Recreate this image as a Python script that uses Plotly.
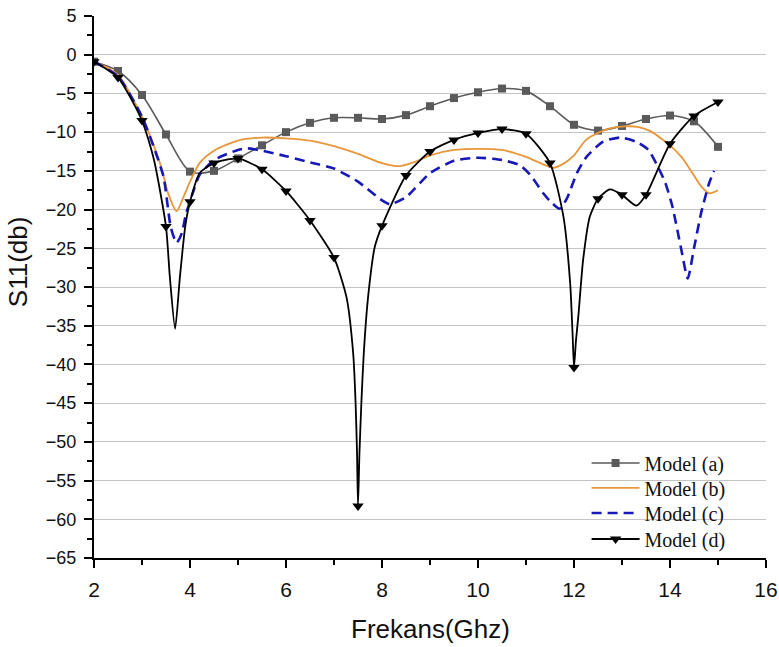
import plotly.graph_objects as go

# ---------------- data ----------------
# Model (a): gray squares every 0.5 GHz
a_x = [2.0, 2.5, 3.0, 3.5, 4.0, 4.5, 5.0, 5.5, 6.0, 6.5, 7.0, 7.5, 8.0, 8.5,
       9.0, 9.5, 10.0, 10.5, 11.0, 11.5, 12.0, 12.5, 13.0, 13.5, 14.0, 14.5, 15.0]
a_y = [-0.9, -2.1, -5.2, -10.3, -15.1, -15.0, -13.4, -11.7, -10.0, -8.8, -8.15,
       -8.15, -8.3, -7.8, -6.65, -5.6, -4.85, -4.37, -4.67, -6.65, -9.05, -9.8,
       -9.2, -8.3, -7.85, -8.6, -11.9]

# Model (b): orange solid line
b_x = [2.0, 2.5, 3.0, 3.2, 3.4, 3.55, 3.72, 3.85, 4.0, 4.2, 4.5, 5.0, 5.5, 6.0,
       6.5, 7.0, 7.5, 8.0, 8.35, 8.7, 9.0, 9.5, 10.0, 10.5, 11.0, 11.3, 11.57,
       11.8, 12.0, 12.25, 12.5, 12.75, 13.05, 13.35, 13.6, 14.0, 14.25, 14.5,
       14.65, 14.82, 15.0]
b_y = [-0.9, -2.6, -8.0, -11.0, -14.5, -18.0, -20.2, -18.6, -16.4, -14.0, -12.4,
       -11.1, -10.7, -10.8, -11.1, -11.8, -12.8, -14.0, -14.4, -13.8, -13.0,
       -12.3, -12.15, -12.3, -13.2, -14.0, -14.6, -14.0, -13.0, -11.0, -10.1,
       -9.5, -9.25, -9.35, -9.9, -11.7, -13.3, -15.6, -17.0, -17.9, -17.5]

# Model (c): blue dashed line
c_x = [2.0, 2.5, 3.0, 3.25, 3.45, 3.6, 3.72, 3.82, 3.92, 4.05, 4.2, 4.5, 5.0,
       5.2, 5.5, 6.0, 6.5, 7.0, 7.5, 8.0, 8.17, 8.5, 9.0, 9.5, 10.0, 10.5,
       10.88, 11.1, 11.36, 11.5, 11.7, 11.85, 12.06, 12.26, 12.6, 12.96, 13.3,
       13.55, 13.75, 13.9, 14.05, 14.23, 14.37, 14.5, 14.65, 14.82, 14.92]
c_y = [-0.9, -2.8, -8.0, -12.0, -15.8, -22.3, -24.3, -23.2, -20.5, -18.0, -15.5,
       -13.6, -12.3, -12.1, -12.4, -13.1, -13.9, -14.7, -16.4, -18.8, -19.3,
       -18.4, -15.3, -13.7, -13.3, -13.6, -14.3, -15.6, -17.9, -18.9, -19.9,
       -18.6, -15.3, -13.2, -11.25, -10.7, -11.25, -12.3, -14.5, -16.5, -19.6,
       -25.0, -28.9, -25.0, -20.4, -16.5, -15.0]

# Model (d): black line with down-triangles every 0.5 GHz
d_x = [2.0, 2.5, 3.0, 3.25, 3.5, 3.58, 3.69, 3.79, 3.9, 4.0, 4.2, 4.5, 5.0, 5.5,
       6.0, 6.5, 7.0, 7.26, 7.40, 7.45, 7.48, 7.5, 7.53, 7.57, 7.62, 7.71, 7.85,
       8.0, 8.5, 9.0, 9.5, 10.0, 10.5, 11.0, 11.5, 11.78, 11.92, 11.97, 12.0,
       12.04, 12.09, 12.19, 12.33, 12.5, 12.75, 13.0, 13.3, 13.5, 14.0, 14.5, 15.0]
d_y = [-0.9, -2.95, -8.5, -13.6, -22.2, -28.7, -35.4, -28.7, -22.2, -19.0, -15.3,
       -14.0, -13.4, -14.8, -17.6, -21.4, -26.2, -31.3, -38.6, -45.0, -51.5,
       -58.3, -51.5, -45.0, -38.6, -31.3, -24.8, -22.1, -15.6, -12.5, -11.0,
       -10.1, -9.6, -10.2, -14.0, -20.9, -29.5, -36.0, -40.4, -37.0, -33.8,
       -26.5, -20.9, -18.6, -17.4, -18.1, -19.5, -18.1, -11.5, -7.9, -6.1]

names = ["Model (a)", "Model (b)", "Model (c)", "Model (d)"]
x_ticks = [2, 4, 6, 8, 10, 12, 14, 16]
y_ticks = list(range(-65, 6, 5))
grid_vals = list(range(-60, 1, 5))

# ---------------- styling ----------------
GRAY = "#5a5a5a"
ORANGE = "#E8963A"
BLUE = "#1818B8"
BLACK = "#000000"

# markers of (d) sit on the 0.5 GHz grid
d_mx = [x for x in d_x if abs(x * 2 - round(x * 2)) < 1e-9]
d_my = [y for x, y in zip(d_x, d_y) if abs(x * 2 - round(x * 2)) < 1e-9]

fig = go.Figure()

fig.add_trace(go.Scatter(
    x=a_x, y=a_y, name=names[0], mode="lines+markers", legend="legend",
    line=dict(color=GRAY, width=1.6, shape="spline", smoothing=0.8),
    marker=dict(symbol="square", size=8, color=GRAY)))

fig.add_trace(go.Scatter(
    x=b_x, y=b_y, name=names[1], mode="lines", legend="legend2",
    line=dict(color=ORANGE, width=1.8, shape="spline", smoothing=0.7)))

fig.add_trace(go.Scatter(
    x=c_x, y=c_y, name=names[2], mode="lines", legend="legend3",
    line=dict(color=BLUE, width=2.6, dash="10px,6px", shape="spline", smoothing=0.6)))

fig.add_trace(go.Scatter(
    x=d_x, y=d_y, name=names[3], mode="lines", showlegend=False,
    line=dict(color=BLACK, width=1.8, shape="spline", smoothing=0.6)))

fig.add_trace(go.Scatter(
    x=d_mx, y=d_my, name=names[3], mode="markers", showlegend=False,
    marker=dict(symbol="triangle-down", size=10, color=BLACK)))

# legend entry for (d) (line + marker)
fig.add_trace(go.Scatter(
    x=[None], y=[None], name=names[3], mode="lines+markers", yaxis="y2",
    legend="legend4",
    line=dict(color=BLACK, width=1.8),
    marker=dict(symbol="triangle-down", size=10, color=BLACK)))

tickfont_x = dict(family="Liberation Sans, Arial", size=21, color="#111")
tickfont_y = dict(family="Liberation Sans, Arial", size=18, color="#111")


def legend_box(yc):
    return dict(
        x=0.733, y=yc, xanchor="left", yanchor="middle",
        bgcolor="rgba(0,0,0,0)", borderwidth=0,
        font=dict(family="Liberation Serif, Times New Roman", size=20, color="#111"),
        itemwidth=48,
    )


fig.update_layout(
    width=779, height=647,
    margin=dict(l=94, r=13, t=16, b=89, autoexpand=False),
    paper_bgcolor="white", plot_bgcolor="white",
    showlegend=True,
    legend=legend_box(0.1753),
    legend2=legend_box(0.1292),
    legend3=legend_box(0.0830),
    legend4=legend_box(0.0351),
    xaxis=dict(
        range=[2, 16], tickvals=x_ticks, ticks="outside", ticklen=8, tickwidth=1.5,
        tickcolor="black", showline=True, linecolor="black", linewidth=2,
        showgrid=False, zeroline=False, tickfont=tickfont_x, automargin=False,
        ticklabelstandoff=4,
        minor=dict(dtick=1, tick0=2, ticks="outside", ticklen=5, tickwidth=1.5,
                   tickcolor="black", showgrid=False),
    ),
    yaxis=dict(
        range=[-65, 5], tickvals=y_ticks, ticks="outside", ticklen=8, tickwidth=1.5,
        tickcolor="black", showline=True, linecolor="black", linewidth=2,
        showgrid=False, zeroline=False, tickfont=tickfont_y, automargin=False,
        ticklabelstandoff=4,
        minor=dict(dtick=2.5, tick0=0, ticks="outside", ticklen=5, tickwidth=1.5,
                   tickcolor="black", showgrid=False),
    ),
    yaxis2=dict(
        overlaying="y", side="left", range=[-65, 5], tickvals=grid_vals,
        showticklabels=False, ticks="", showgrid=True, gridcolor="#C4C4C4",
        gridwidth=1, showline=False, zeroline=False, automargin=False,
    ),
    annotations=[
        dict(text="S11(db)", xref="paper", yref="paper", x=-0.113, y=0.546,
             xanchor="center", yanchor="middle", textangle=-90, showarrow=False,
             font=dict(family="Liberation Sans, Arial", size=26, color="#111")),
        dict(text="Frekans(Ghz)", xref="paper", yref="paper", x=0.5, y=-0.131,
             xanchor="center", yanchor="middle", showarrow=False,
             font=dict(family="Liberation Sans, Arial", size=26, color="#111")),
    ],
)

fig.write_html("out.html", config={"displayModeBar": False},
               post_script="document.body.style.margin='0';document.body.style.overflow='hidden';")
